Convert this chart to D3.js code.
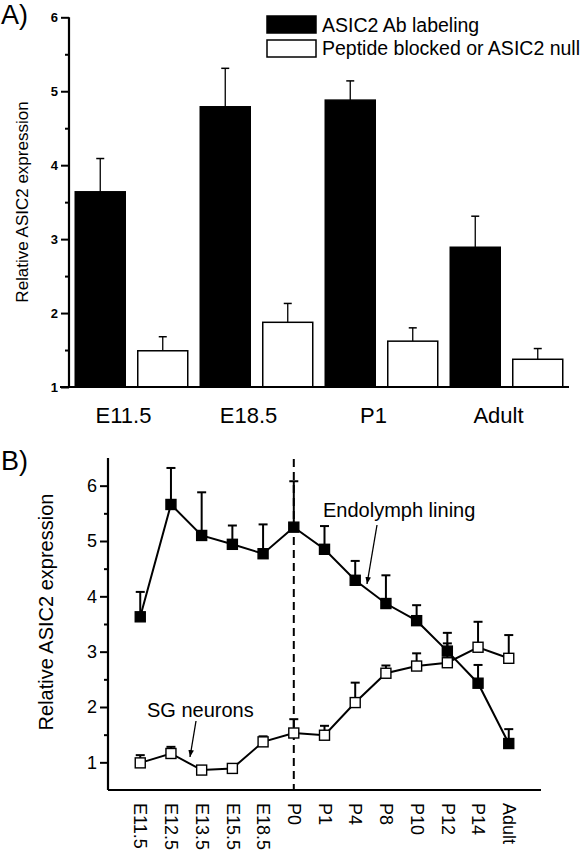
<!DOCTYPE html>
<html><head><meta charset="utf-8">
<script src="https://cdn.jsdelivr.net/npm/d3@7"></script>
<style>body{margin:0;background:#fff} svg{display:block} text{font-family:"Liberation Sans",Arial,Helvetica,sans-serif;fill:#000}</style>
</head><body><svg id="c" width="582" height="852"></svg>
<script>
// ---------- Panel A data ----------
const groupsA = ["E11.5","E18.5","P1","Adult"];
const seriesA = ["ASIC2 Ab labeling","Peptide blocked or ASIC2 null"];
const abMean = [3.64,4.79,4.88,2.89];
const abErr = [0.45,0.52,0.26,0.42];
const nullMean = [1.49,1.875,1.62,1.375];
const nullErr = [0.19,0.255,0.18,0.145];
const yTicksA = [1,2,3,4,5,6];
const yMinorA = [1.5,2.5,3.5,4.5,5.5];

// ---------- Panel B data ----------
const stagesB = ["E11.5","E12.5","E13.5","E15.5","E18.5","P0","P1","P4","P8","P10","P12","P14","Adult"];
const endoMean = [3.63,5.66,5.10,4.94,4.77,5.25,4.85,4.29,3.87,3.56,3.01,2.43,1.34];
const endoErr  = [0.45,0.66,0.78,0.34,0.53,0.83,0.42,0.35,0.51,0.28,0.33,0.33,0.26];
const sgMean   = [0.99,1.16,0.86,0.89,1.37,1.53,1.49,2.08,2.61,2.74,2.80,3.08,2.88];
const sgErr    = [0.14,0.12,0.06,0.03,0.10,0.25,0.17,0.36,0.14,0.23,0.35,0.46,0.42];
const yTicksB = [1,2,3,4,5,6];
const yMinorB = [1.5,2.5,3.5,4.5,5.5];

const svg = d3.select("#c");
const defs = svg.append("defs");
defs.append("marker").attr("id","arr").attr("viewBox","0 0 10 10").attr("refX",10).attr("refY",5)
  .attr("markerWidth",7).attr("markerHeight",7).attr("markerUnits","userSpaceOnUse").attr("orient","auto")
  .append("path").attr("d","M0,1 L10,5 L0,9 Z").attr("fill","#000");

// ================= Panel A =================
const xA = d3.scaleBand().domain(groupsA).range([69,569]).padding(0);
const xInA = d3.scaleBand().domain([0,1]).range([0,xA.bandwidth()]).paddingInner(0.2).paddingOuter(0.1);
const yA = d3.scaleLinear().domain([1,6]).range([387,17.3]);
const gA = svg.append("g");

const barsA = [];
groupsA.forEach((g,i)=>{
  barsA.push({g, s:0, v:abMean[i], e:abErr[i]});
  barsA.push({g, s:1, v:nullMean[i], e:nullErr[i]});
});
// error bars
gA.selectAll(".ea").data(barsA).join("g").each(function(d){
  const cx = xA(d.g)+xInA(d.s)+xInA.bandwidth()/2;
  const s = d3.select(this);
  s.append("line").attr("x1",cx).attr("x2",cx).attr("y1",yA(d.v)).attr("y2",yA(d.v+d.e)).attr("stroke","#000").attr("stroke-width",1.3);
  s.append("line").attr("x1",cx-4).attr("x2",cx+4).attr("y1",yA(d.v+d.e)).attr("y2",yA(d.v+d.e)).attr("stroke","#000").attr("stroke-width",1.5);
});
gA.selectAll(".ba").data(barsA).join("rect")
  .attr("x",d=>xA(d.g)+xInA(d.s)).attr("width",xInA.bandwidth())
  .attr("y",d=>yA(d.v)).attr("height",d=>yA(1)-yA(d.v))
  .attr("fill",d=>d.s===0?"#000":"#fff").attr("stroke","#000").attr("stroke-width",1.5);

// y axis A
const axA = gA.append("g").attr("transform","translate(69,0)")
  .call(d3.axisLeft(yA).tickValues(yTicksA).tickSize(8).tickPadding(3).tickFormat(d3.format("d")));
axA.select(".domain").attr("stroke-width",2.2).attr("d","M0,"+yA(6)+"V"+yA(1));
axA.selectAll(".tick line").attr("stroke-width",2);
axA.selectAll(".tick text").attr("font-size",13).attr("font-weight","bold").attr("font-family","Liberation Sans, Arial, sans-serif");
const axAm = gA.append("g").attr("transform","translate(69,0)")
  .call(d3.axisLeft(yA).tickValues(yMinorA).tickSize(4).tickFormat(""));
axAm.select(".domain").remove();
axAm.selectAll(".tick line").attr("stroke-width",2);
// x axis A
const axAx = gA.append("g").attr("transform","translate(-8,387)")
  .call(d3.axisBottom(xA).tickSize(0).tickPadding(20));
axAx.select(".domain").remove();
axAx.selectAll(".tick text").attr("font-size",22).attr("font-family","Liberation Sans, Arial, sans-serif");
gA.append("line").attr("x1",60).attr("x2",569).attr("y1",yA(1)).attr("y2",yA(1)).attr("stroke","#000").attr("stroke-width",2.2);

// y label A
gA.append("text").attr("transform","translate(28,202) rotate(-90)").attr("text-anchor","middle")
  .attr("font-size",17).text("Relative ASIC2 expression");
// panel label
svg.append("text").attr("x",1).attr("y",24).attr("font-size",27).text("A)");

// legend A
const legA = gA.append("g");
seriesA.forEach((s,i)=>{
  legA.append("rect").attr("x",267).attr("y",16+i*24).attr("width",49).attr("height",17)
    .attr("fill",i===0?"#000":"#fff").attr("stroke","#000").attr("stroke-width",1.5);
  legA.append("text").attr("x",322).attr("y",32+i*23).attr("font-size",19.5).text(s);
});

// ================= Panel B =================
const xB = d3.scalePoint().domain(stagesB).range([108,541]).padding(1.05);
const yB = d3.scaleLinear().domain([0.5,6.5]).range([790,458]);
const gB = svg.append("g");

// dashed line at P0
gB.append("line").attr("x1",xB("P0")).attr("x2",xB("P0")).attr("y1",yB(6.48)).attr("y2",yB(0.5))
  .attr("stroke","#000").attr("stroke-width",2).attr("stroke-dasharray","8,5");

const line = d3.line().x(d=>xB(d.s)).y(d=>yB(d.v));
const sgData = stagesB.map((s,i)=>({s, v:sgMean[i], e:sgErr[i]}));
const endoData = stagesB.map((s,i)=>({s, v:endoMean[i], e:endoErr[i]}));

function drawSeries(data, filled){
  const g = gB.append("g");
  g.append("path").datum(data).attr("d",line).attr("fill","none").attr("stroke","#000").attr("stroke-width",2);
  g.selectAll(".e").data(data).join("g").each(function(d){
    const cx = xB(d.s), s = d3.select(this);
    s.append("line").attr("x1",cx).attr("x2",cx).attr("y1",yB(d.v)).attr("y2",yB(d.v+d.e)).attr("stroke","#000").attr("stroke-width",2);
    s.append("line").attr("x1",cx-4.5).attr("x2",cx+4.5).attr("y1",yB(d.v+d.e)).attr("y2",yB(d.v+d.e)).attr("stroke","#000").attr("stroke-width",2);
  });
  g.selectAll(".m").data(data).join("rect")
    .attr("x",d=>xB(d.s)-5).attr("y",d=>yB(d.v)-5).attr("width",10).attr("height",10)
    .attr("fill",filled?"#000":"#fff").attr("stroke","#000").attr("stroke-width",1.4);
}
drawSeries(sgData,false);
drawSeries(endoData,true);

// y axis B
const axB = gB.append("g").attr("transform","translate(108,0)")
  .call(d3.axisLeft(yB).tickValues(yTicksB).tickSize(8).tickPadding(3).tickFormat(d3.format("d")));
axB.select(".domain").attr("stroke-width",2.2).attr("d","M0,"+yB(6.5)+"V"+yB(0.5));
axB.selectAll(".tick line").attr("stroke-width",2);
axB.selectAll(".tick text").attr("font-size",18).attr("font-family","Liberation Sans, Arial, sans-serif");
const axBm = gB.append("g").attr("transform","translate(108,0)")
  .call(d3.axisLeft(yB).tickValues(yMinorB).tickSize(4).tickFormat(""));
axBm.select(".domain").remove();
axBm.selectAll(".tick line").attr("stroke-width",2);

// x axis B
const axBx = gB.append("g").attr("transform","translate(0,790)")
  .call(d3.axisBottom(xB).tickSize(0).tickPadding(0));
axBx.select(".domain").attr("stroke-width",2.2).attr("d","M108,0H541");
axBx.selectAll(".tick text").attr("font-size",18).attr("font-family","Liberation Sans, Arial, sans-serif")
  .attr("text-anchor","start").attr("transform","translate(0,13) rotate(90)").attr("x",0).attr("y",0).attr("dy","0.35em");

// y label B
gB.append("text").attr("transform","translate(53,612) rotate(-90)").attr("text-anchor","middle")
  .attr("font-size",20).text("Relative ASIC2 expression");
svg.append("text").attr("x",1).attr("y",470).attr("font-size",27).text("B)");

// annotations
gB.append("text").attr("x",323).attr("y",517).attr("font-size",20).text("Endolymph lining");
gB.append("line").attr("x1",377).attr("y1",525).attr("x2",367).attr("y2",584).attr("stroke","#000").attr("stroke-width",1.3).attr("marker-end","url(#arr)");
gB.append("text").attr("x",147).attr("y",717).attr("font-size",20).text("SG neurons");
gB.append("line").attr("x1",196).attr("y1",721).attr("x2",190).attr("y2",757).attr("stroke","#000").attr("stroke-width",1.3).attr("marker-end","url(#arr)");
</script></body></html>
